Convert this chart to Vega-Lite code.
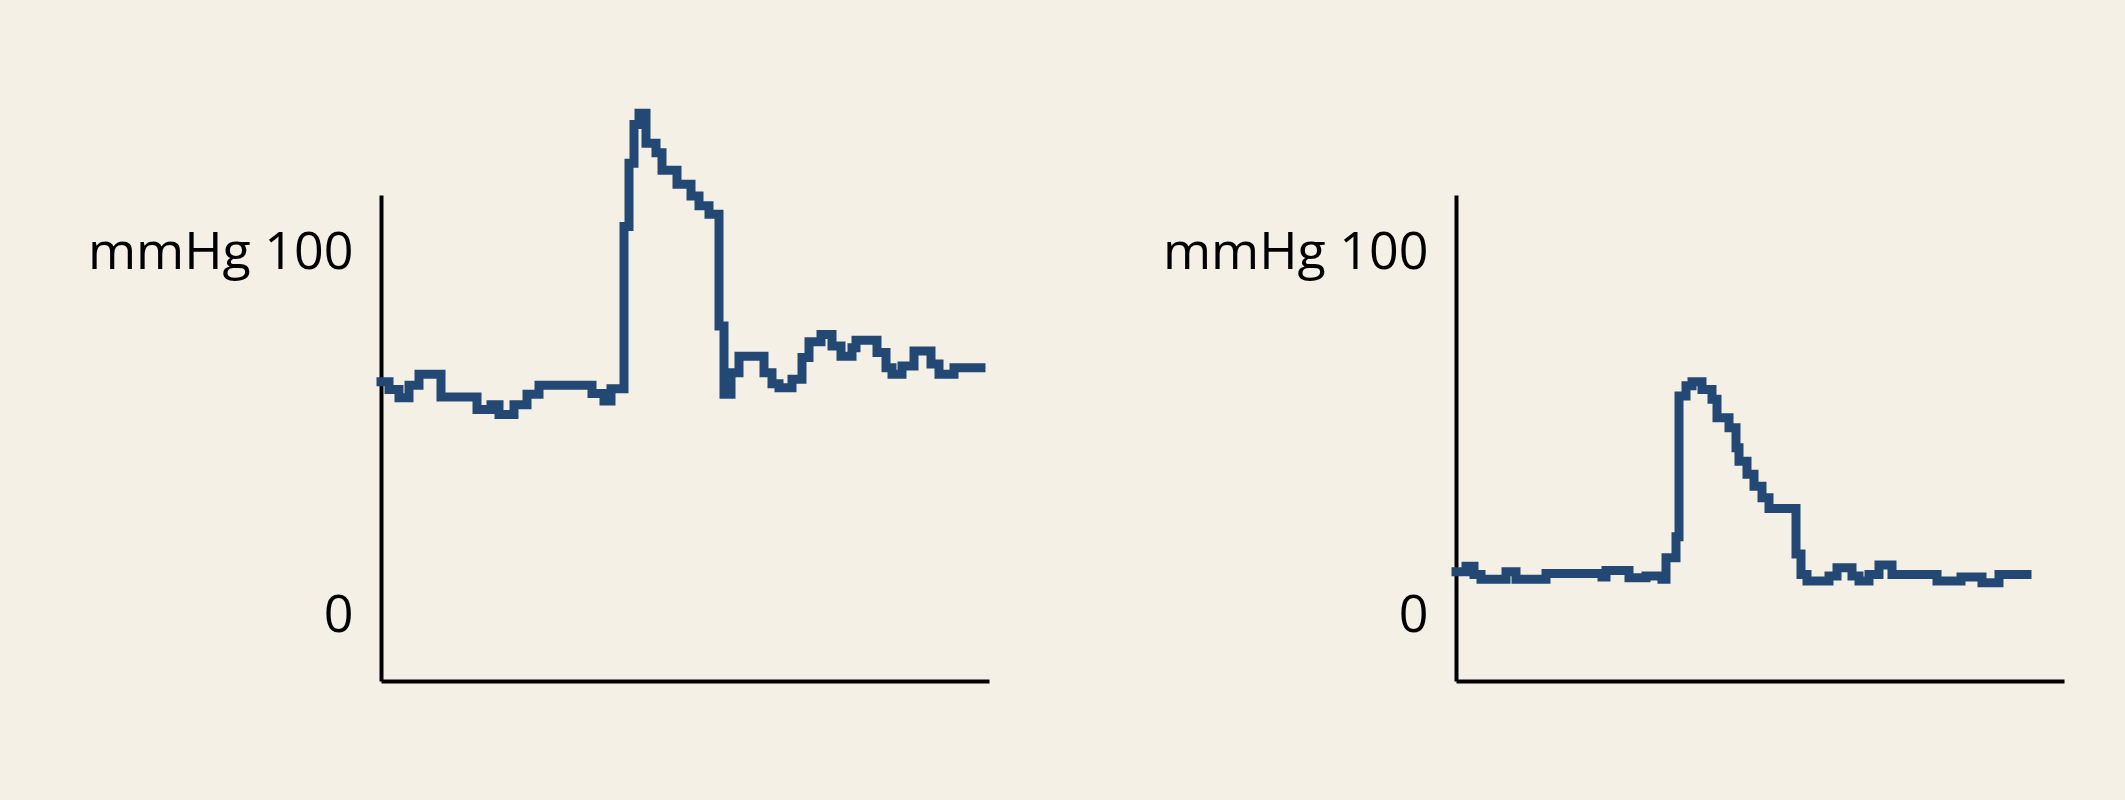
{
  "$schema": "https://vega.github.io/schema/vega-lite/v6.json",
  "background": "#f4f0e6",
  "padding": {"left": 87, "top": 95, "right": 69, "bottom": 126},
  "bounds": "flush",
  "spacing": 467,
  "datasets": {
    "left": [
      {"t": 0, "p": 64.4}, {"t": 8, "p": 62.3}, {"t": 18, "p": 60.0}, {"t": 28, "p": 63.5},
      {"t": 38, "p": 66.5}, {"t": 60, "p": 60.2}, {"t": 96, "p": 56.8}, {"t": 110, "p": 58.1},
      {"t": 118, "p": 55.4}, {"t": 133, "p": 58.1}, {"t": 146, "p": 61.0}, {"t": 158, "p": 63.5},
      {"t": 211, "p": 61.2}, {"t": 223, "p": 59.1}, {"t": 230, "p": 62.5}, {"t": 243, "p": 107.3},
      {"t": 248, "p": 124.8}, {"t": 253, "p": 135.5}, {"t": 258, "p": 138.6}, {"t": 265, "p": 130.3},
      {"t": 275, "p": 127.7}, {"t": 281, "p": 122.8}, {"t": 296, "p": 119.0}, {"t": 310, "p": 115.7},
      {"t": 318, "p": 113.0}, {"t": 328, "p": 110.7}, {"t": 338, "p": 79.8}, {"t": 343, "p": 61.0},
      {"t": 350, "p": 66.9}, {"t": 358, "p": 71.5}, {"t": 383, "p": 66.9}, {"t": 391, "p": 63.9},
      {"t": 398, "p": 62.8}, {"t": 411, "p": 65.1}, {"t": 421, "p": 71.1}, {"t": 428, "p": 75.5},
      {"t": 440, "p": 77.5}, {"t": 451, "p": 74.3}, {"t": 460, "p": 71.5}, {"t": 471, "p": 73.8},
      {"t": 475, "p": 75.9}, {"t": 496, "p": 72.5}, {"t": 505, "p": 68.3}, {"t": 511, "p": 66.5},
      {"t": 521, "p": 68.8}, {"t": 533, "p": 72.9}, {"t": 550, "p": 69.3}, {"t": 558, "p": 66.5},
      {"t": 573, "p": 68.3}, {"t": 600, "p": 68.3}
    ],
    "right": [
      {"t": 0, "p": 12.0}, {"t": 10, "p": 13.5}, {"t": 18, "p": 11.2}, {"t": 25, "p": 9.9},
      {"t": 50, "p": 12.0}, {"t": 60, "p": 9.9}, {"t": 90, "p": 11.5}, {"t": 146, "p": 10.5},
      {"t": 150, "p": 12.3}, {"t": 173, "p": 10.3}, {"t": 190, "p": 10.8}, {"t": 206, "p": 9.9},
      {"t": 210, "p": 15.8}, {"t": 220, "p": 21.6}, {"t": 223, "p": 60.5}, {"t": 230, "p": 63.3},
      {"t": 236, "p": 64.4}, {"t": 246, "p": 62.3}, {"t": 256, "p": 59.6}, {"t": 261, "p": 54.5},
      {"t": 273, "p": 51.7}, {"t": 280, "p": 46.2}, {"t": 283, "p": 42.5}, {"t": 291, "p": 38.9},
      {"t": 298, "p": 35.6}, {"t": 306, "p": 32.4}, {"t": 313, "p": 29.4}, {"t": 340, "p": 16.9},
      {"t": 345, "p": 11.2}, {"t": 351, "p": 9.4}, {"t": 373, "p": 10.8}, {"t": 381, "p": 13.1},
      {"t": 396, "p": 10.8}, {"t": 403, "p": 9.4}, {"t": 413, "p": 11.2}, {"t": 423, "p": 13.8},
      {"t": 436, "p": 11.2}, {"t": 481, "p": 9.4}, {"t": 505, "p": 10.5}, {"t": 526, "p": 8.9},
      {"t": 543, "p": 11.2}, {"t": 571, "p": 11.2}
    ]
  },
  "hconcat": [
    {
      "data": {"name": "left"},
      "width": 608,
      "height": 486,
      "mark": {"type": "line", "interpolate": "step-after", "color": "#234874", "strokeWidth": 9, "strokeJoin": "miter", "strokeCap": "square"},
      "encoding": {
        "x": {"field": "t", "type": "quantitative", "scale": {"domain": [0, 608], "nice": false}, "axis": {"labels": false, "title": null}},
        "y": {"field": "p", "type": "quantitative", "scale": {"domain": [-18.2, 116], "nice": false, "zero": false},
              "axis": {"title": null, "values": [0, 100], "labelExpr": "datum.value == 100 ? 'mmHg 100' : datum.label"}}
      }
    },
    {
      "data": {"name": "right"},
      "width": 608,
      "height": 486,
      "mark": {"type": "line", "interpolate": "step-after", "color": "#234874", "strokeWidth": 9, "strokeJoin": "miter", "strokeCap": "square"},
      "encoding": {
        "x": {"field": "t", "type": "quantitative", "scale": {"domain": [0, 608], "nice": false}, "axis": {"labels": false, "title": null}},
        "y": {"field": "p", "type": "quantitative", "scale": {"domain": [-18.2, 116], "nice": false, "zero": false},
              "axis": {"title": null, "values": [0, 100], "labelExpr": "datum.value == 100 ? 'mmHg 100' : datum.label"}}
      }
    }
  ],
  "config": {
    "view": {"stroke": null},
    "axis": {
      "grid": false,
      "ticks": false,
      "domainColor": "#000000",
      "domainWidth": 4,
      "labelFont": "Open Sans",
      "labelFontSize": 52,
      "labelColor": "#000000",
      "labelPadding": 28,
      "labelLimit": 0
    }
  }
}
